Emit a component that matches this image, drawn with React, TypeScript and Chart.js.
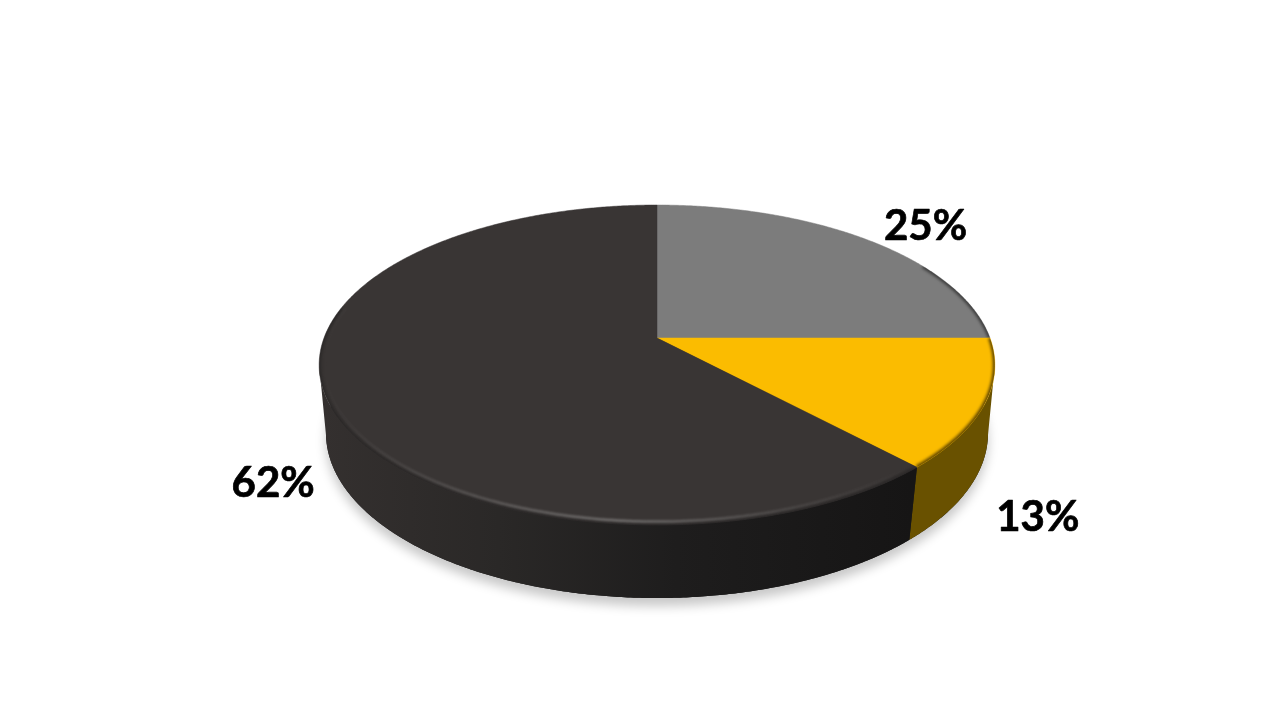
import React, { useEffect, useRef } from 'react';
import { Chart, registerables } from 'chart.js';

Chart.register(...registerables);

const categories = ['A', 'B', 'C'];
const shares = [25, 13, 62];
const topColors = ['#7c7c7c', '#fbbc00', '#393534'];
const rimColors = ['rgba(30,30,30,0.7)', 'rgba(80,58,0,0.95)', 'rgba(18,18,18,0.35)'];

// label placement: distance from the pie centre (in radii) and extra drop in px
const labelRadii = [1.32, 1.15, 1.151];
const labelDrops = [13.5, 103, 75];

// perspective of the disc, top face and bottom face
const TILT = -0.16875;
const BOTTOM_TILT = -0.155;
const SQUASH = 0.4667;
const DEPTH = 69.5;
const BOTTOM_X = 327 / 333;
const BOTTOM_Y = 161 / 155.4;
// where the outline of the disc is widest, measured from the horizontal
const WIDEST = Math.asin(-TILT);
const RIM_FROM = -Math.PI / 6;
const RIM_TO = Math.PI + 0.2;

type Pt = [number, number];

const project = (arc: any, angle: number, r = 1, lower = false): Pt => {
  const R = arc.outerRadius;
  const u = r * Math.cos(angle);
  const v = r * Math.sin(angle);
  const w = 1 + (lower ? BOTTOM_TILT : TILT) * v;
  const sx = lower ? BOTTOM_X : 1;
  const sy = lower ? BOTTOM_Y : 1;
  return [arc.x + (R * sx * u) / w, arc.y + (lower ? DEPTH : 0) + (R * SQUASH * sy * v) / w];
};

const arcPoints = (arc: any, from: number, to: number, r = 1, lower = false) => {
  const n = Math.max(2, Math.ceil(Math.abs(to - from) / 0.008));
  const pts: Pt[] = [];
  for (let i = 0; i <= n; i++) pts.push(project(arc, from + ((to - from) * i) / n, r, lower));
  return pts;
};

const trace = (ctx: CanvasRenderingContext2D, pts: Pt[]) => {
  ctx.beginPath();
  pts.forEach((p, i) => (i ? ctx.lineTo(p[0], p[1]) : ctx.moveTo(p[0], p[1])));
};

// only the front of the wall is seen, between the two widest points of the outline
const wallPoints = (arc: any) => {
  const from = Math.max(arc.startAngle, WIDEST);
  const to = Math.min(arc.endAngle, Math.PI - WIDEST);
  if (to <= from) return null;
  return arcPoints(arc, from, to).concat(arcPoints(arc, to, from, 1, true));
};

const disc3d = {
  id: 'disc3d',
  beforeDatasetsDraw(chart: any) {
    const ctx: CanvasRenderingContext2D = chart.ctx;
    const arcs = chart.getDatasetMeta(0).data;
    const first = arcs[0];
    ctx.save();

    // soft floor shadow
    ctx.save();
    ctx.shadowColor = 'rgba(0,0,0,0.22)';
    ctx.shadowBlur = 11;
    ctx.shadowOffsetY = 8;
    ctx.fillStyle = '#1c1b1b';
    trace(ctx, arcPoints(first, 0, Math.PI * 2, 1, true));
    ctx.fill();
    ctx.restore();

    // side walls
    const darkSide = ctx.createLinearGradient(first.x - 335, 0, first.x + 255, 0);
    darkSide.addColorStop(0, '#34302f');
    darkSide.addColorStop(0.3, '#2a2827');
    darkSide.addColorStop(0.6, '#1e1d1d');
    darkSide.addColorStop(1, '#161515');
    const sideFills = ['#4a4a4a', '#695100', darkSide];
    arcs.forEach((arc: any, i: number) => {
      const wall = wallPoints(arc);
      if (!wall) return;
      trace(ctx, wall);
      ctx.closePath();
      ctx.fillStyle = sideFills[i];
      ctx.fill();
    });

    // top faces, with a dark bevel just inside the front of the rim
    arcs.forEach((arc: any, i: number) => {
      const rim = arcPoints(arc, arc.startAngle, arc.endAngle);
      const wedge = [[arc.x, arc.y] as Pt].concat(rim);
      ctx.save();
      trace(ctx, wedge);
      ctx.closePath();
      ctx.fillStyle = topColors[i];
      ctx.strokeStyle = topColors[i];
      ctx.lineWidth = 0.5;
      ctx.fill();
      ctx.stroke();
      ctx.clip();
      const from = Math.max(arc.startAngle, RIM_FROM);
      const to = Math.min(arc.endAngle, RIM_TO);
      if (to > from) {
        ctx.filter = 'blur(1.5px)';
        trace(ctx, arcPoints(arc, from, to));
        ctx.strokeStyle = rimColors[i];
        ctx.lineWidth = 4;
        ctx.stroke();
      }
      ctx.restore();
    });

    // pale highlight running round the front of the dark slice
    const dark = arcs[2];
    const shine = ctx.createLinearGradient(first.x - 340, 0, first.x + 260, 0);
    shine.addColorStop(0, 'rgba(255,255,255,0)');
    shine.addColorStop(0.3, 'rgba(255,255,255,0.2)');
    shine.addColorStop(0.5, 'rgba(255,255,255,0.3)');
    shine.addColorStop(0.8, 'rgba(255,255,255,0.1)');
    shine.addColorStop(1, 'rgba(255,255,255,0)');
    ctx.save();
    ctx.filter = 'blur(1px)';
    trace(ctx, arcPoints(dark, dark.startAngle, RIM_TO, 0.985));
    ctx.strokeStyle = shine;
    ctx.lineWidth = 2.5;
    ctx.stroke();
    ctx.restore();

    // percentage labels
    ctx.fillStyle = '#000000';
    ctx.strokeStyle = '#000000';
    ctx.lineWidth = 0.7;
    ctx.lineJoin = 'round';
    ctx.font = 'bold 42px Lato';
    ctx.textAlign = 'center';
    ctx.textBaseline = 'middle';
    arcs.forEach((arc: any, i: number) => {
      const mid = (arc.startAngle + arc.endAngle) / 2;
      const p = project(arc, mid, labelRadii[i]);
      ctx.fillText(`${shares[i]}%`, p[0], p[1] + labelDrops[i]);
      ctx.strokeText(`${shares[i]}%`, p[0], p[1] + labelDrops[i]);
    });

    ctx.restore();
    return false;
  },
};

export default function App() {
  const canvasRef = useRef<HTMLCanvasElement | null>(null);

  useEffect(() => {
    if (!canvasRef.current) return;
    const chart = new Chart(canvasRef.current, {
      type: 'pie',
      data: {
        labels: categories,
        datasets: [{ data: shares, backgroundColor: topColors, borderWidth: 0 }],
      },
      options: {
        responsive: false,
        animation: false,
        layout: { padding: { top: 5, bottom: 49, left: 324, right: 290 } },
        plugins: { legend: { display: false }, tooltip: { enabled: false } },
      },
      plugins: [disc3d],
    } as any);
    return () => chart.destroy();
  }, []);

  return (
    <div style={{ position: 'absolute', left: 0, top: 0, width: 1280, height: 720, background: '#fff' }}>
      <canvas ref={canvasRef} width={1280} height={720} style={{ display: 'block' }} />
    </div>
  );
}
